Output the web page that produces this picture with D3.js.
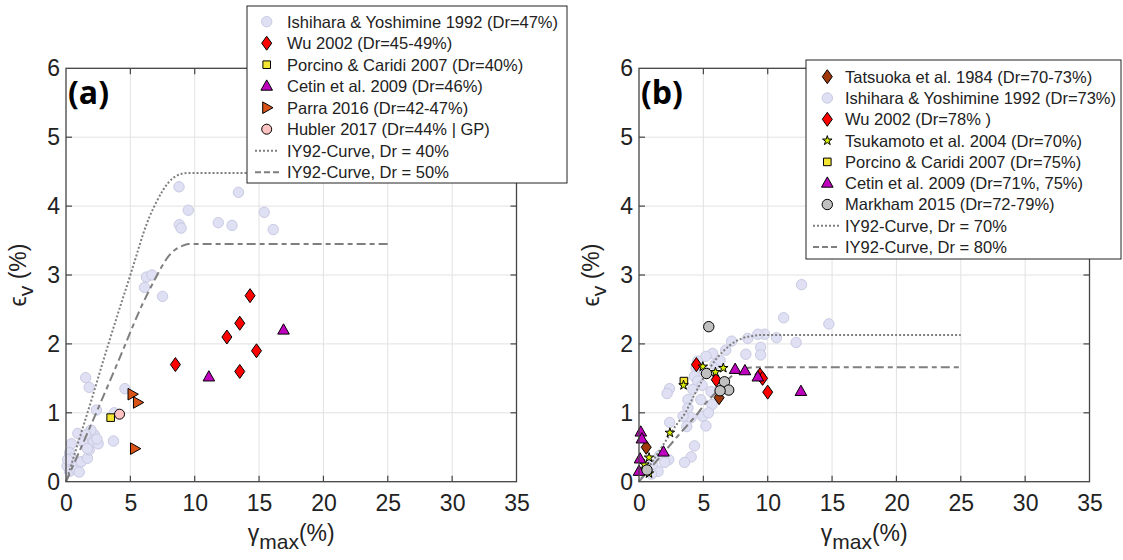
<!DOCTYPE html>
<html>
<head>
<meta charset="utf-8">
<script src="https://cdn.jsdelivr.net/npm/d3@7"></script>
<style>
  html, body { margin: 0; padding: 0; background: #fff; }
  svg { display: block; font-family: "Liberation Sans", Arial, sans-serif; }
</style>
</head>
<body>
<svg id="chart" width="1123" height="560"></svg>
<script>
// ---------- Panel (a): loose sand, Dr ~ 40-50 % ----------
const aIshihara = [
  [8.78,4.28],[9.5,3.94],[8.8,3.73],[8.94,3.68],[13.4,4.2],[11.83,3.76],[12.9,3.72],
  [15.4,3.91],[16.1,3.66],[6.25,2.97],[6.67,3.0],[6.1,2.82],[7.5,2.69],
  [1.53,1.51],[1.8,1.37],[4.58,1.35],[2.36,1.04],[3.75,1.0],[3.69,0.59],
  [0.42,0.55],[0.92,0.70],[0.28,0.42],[0.08,0.23],[0.28,0.15],[0.83,0.17],[1.03,0.14],
  [0.69,0.31],[1.19,0.29],[1.66,0.34],[1.8,0.46],[2.14,0.58],[2.5,0.55],[2.2,0.68],
  [1.94,0.75],[1.53,0.68],[1.3,0.58],[1.66,0.48],[0.42,0.34],[0.13,0.32],[2.4,0.62]
];
const aWu = [[8.5,1.7],[12.5,2.1],[13.5,2.3],[14.3,2.7],[14.8,1.9],[13.5,1.6]];
const aPorcino = [[3.47,0.93]];
const aCetin = [[11.1,1.52],[16.9,2.2]];
const aParra = [[5.13,1.27],[5.55,1.15],[5.32,0.48]];
const aHubler = [[4.16,0.98]];
const aCurve40 = [[0,0],[1,0.6],[2,1.2],[3,1.82],[4,2.42],[5,3.0],[5.5,3.3],[6,3.6],[6.5,3.85],
  [7,4.05],[7.5,4.22],[8,4.35],[8.5,4.43],[9,4.47],[9.5,4.48],[25,4.48]];
const aCurve50 = [[0,0],[2,0.85],[4,1.72],[6,2.6],[7,2.97],[7.5,3.14],[8,3.28],[8.5,3.37],
  [9,3.42],[9.5,3.45],[25,3.45]];

// ---------- Panel (b): dense sand, Dr ~ 70-80 % ----------
const bTatsuoka = [[0.56,0.5],[6.22,1.22]];
const bIshihara = [
  [12.63,2.86],[11.24,2.38],[14.75,2.29],[10.68,2.09],[12.21,2.02],[9.76,2.14],[9.23,2.14],
  [8.45,2.08],[7.2,2.04],[9.45,1.95],[9.45,1.84],[8.3,1.85],[6.74,1.91],[5.72,1.86],
  [5.2,1.82],[4.56,1.75],[4.44,1.65],[4.3,1.53],[4.56,1.46],[4.18,1.34],[3.8,1.19],
  [3.8,1.07],[4.05,0.93],[4.8,1.19],[4.95,0.95],[5.2,0.81],[5.6,1.31],[5.67,1.12],
  [5.9,1.7],[6.3,1.76],[5.1,1.6],[4.9,1.4],[2.37,1.35],[2.18,1.28],[2.38,0.86],
  [4.31,0.52],[4.05,0.36],[3.54,0.28],[2.31,0.32],[1.6,0.38],[2.0,0.28],[1.48,0.15],
  [1.06,0.25],[0.97,0.11],[3.43,0.95],[3.71,0.8],[5.4,1.0]
];
const bWu = [[4.46,1.7],[6.0,1.48],[9.4,1.55],[9.6,1.5],[10.0,1.3]];
const bTsukamoto = [[4.96,1.67],[5.94,1.59],[6.55,1.65],[3.46,1.4],[2.4,0.71],[0.78,0.35],
  [0.42,0.25],[0.78,0.12]];
const bPorcino = [[3.49,1.46]];
const bCetin = [[0.14,0.72],[0.22,0.62],[0.08,0.33],[0.0,0.15],[1.9,0.43],[7.47,1.63],
  [8.23,1.61],[9.23,1.52],[12.58,1.31]];
const bMarkham = [[5.42,2.25],[5.24,1.57],[6.64,1.45],[6.97,1.33],[6.3,1.32],[0.62,0.17]];
const bCurve70 = [[0,0],[1,0.28],[2,0.57],[3,0.85],[3.6,1.0],[4,1.15],[5,1.5],[6,1.78],
  [7,1.97],[8,2.08],[9,2.12],[9.5,2.13],[25,2.13]];
const bCurve80 = [[0,0],[1,0.22],[2,0.44],[3,0.66],[4,0.87],[4.6,1.0],[5,1.1],[6,1.3],
  [7,1.5],[7.5,1.58],[8,1.63],[8.5,1.655],[9,1.66],[25,1.66]];

const xTicks = [0,5,10,15,20,25,30,35];
const yTicks = [0,1,2,3,4,5,6];

// ---------- marker shapes ----------
const shapes = {
  circle: r => `M${r},0A${r},${r} 0 1,1 ${-r},0A${r},${r} 0 1,1 ${r},0Z`,
  diamond: () => "M0,-7L5,0L0,7L-5,0Z",
  square: () => "M-3.8,-3.8H3.8V3.8H-3.8Z",
  triUp: () => "M0,-6.3L5.8,4L-5.8,4Z",
  triRight: () => "M6.3,0L-4,-5.8L-4,5.8Z",
  star: () => d3.symbol(d3.symbolStar, 28)()
};

const styles = {
  ishihara: { shape: "circle", r: 5.2, fill: "#dfe0f3", stroke: "#c8cae2" },
  wu:       { shape: "diamond", fill: "#ff0000", stroke: "#000" },
  porcino:  { shape: "square", fill: "#f3e531", stroke: "#000" },
  cetin:    { shape: "triUp", fill: "#bf00bf", stroke: "#000" },
  parra:    { shape: "triRight", fill: "#d95319", stroke: "#000" },
  hubler:   { shape: "circle", r: 5, fill: "#ffc2c2", stroke: "#000" },
  tatsuoka: { shape: "diamond", fill: "#a1380c", stroke: "#000" },
  tsukamoto:{ shape: "star", fill: "#d8f000", stroke: "#000" },
  markham:  { shape: "circle", r: 5.2, fill: "#c0c0c0", stroke: "#000" }
};

const svg = d3.select("#chart");
const curveStyles = {
  dotted: { dash: "2,2", width: 2 },
  dashed: { dash: "9,4,5,4", width: 2 }
};

function markerPath(st) {
  return st.shape === "circle" ? shapes.circle(st.r) : shapes[st.shape]();
}

function drawPanel(cfg) {
  const x = d3.scaleLinear().domain([0,35]).range([cfg.left, cfg.right]);
  const y = d3.scaleLinear().domain([0,6]).range([cfg.bottom, cfg.top]);
  const g = svg.append("g");

  // grid
  g.append("g").selectAll("line").data(xTicks.slice(1,-1)).join("line")
    .attr("x1", d => x(d)).attr("x2", d => x(d))
    .attr("y1", cfg.top).attr("y2", cfg.bottom)
    .attr("stroke", "#e2e2e2").attr("stroke-width", 1);
  g.append("g").selectAll("line").data(yTicks.slice(1,-1)).join("line")
    .attr("y1", d => y(d)).attr("y2", d => y(d))
    .attr("x1", cfg.left).attr("x2", cfg.right)
    .attr("stroke", "#e2e2e2").attr("stroke-width", 1);

  // axes: tick labels from d3 axes, tick marks drawn inward
  const xAxis = g.append("g").attr("transform", `translate(0,${cfg.bottom})`)
    .call(d3.axisBottom(x).tickValues(xTicks).tickFormat(d3.format("d")).tickSize(0).tickPadding(10));
  const yAxis = g.append("g").attr("transform", `translate(${cfg.left},0)`)
    .call(d3.axisLeft(y).tickValues(yTicks).tickFormat(d3.format("d")).tickSize(0).tickPadding(6));
  [xAxis, yAxis].forEach(a => {
    a.select(".domain").remove();
    a.selectAll("text").attr("font-size", 23).attr("fill", "#222")
      .attr("font-family", "'Liberation Sans', Arial, sans-serif");
  });
  xAxis.selectAll("text").attr("dy", "0.85em");

  const tk = 6;
  const tickG = g.append("g").attr("stroke", "#444").attr("stroke-width", 1.2);
  xTicks.slice(1,-1).forEach(t => {
    tickG.append("line").attr("x1", x(t)).attr("x2", x(t)).attr("y1", cfg.bottom).attr("y2", cfg.bottom - tk);
    tickG.append("line").attr("x1", x(t)).attr("x2", x(t)).attr("y1", cfg.top).attr("y2", cfg.top + tk);
  });
  yTicks.slice(1,-1).forEach(t => {
    tickG.append("line").attr("y1", y(t)).attr("y2", y(t)).attr("x1", cfg.left).attr("x2", cfg.left + tk);
    tickG.append("line").attr("y1", y(t)).attr("y2", y(t)).attr("x1", cfg.right).attr("x2", cfg.right - tk);
  });

  // background scatter (Ishihara & Yoshimine)
  const plotSeries = (data, st) => {
    g.append("g").selectAll("path").data(data).join("path")
      .attr("d", markerPath(st))
      .attr("transform", d => `translate(${x(d[0])},${y(d[1])})`)
      .attr("fill", st.fill).attr("stroke", st.stroke).attr("stroke-width", 1);
  };
  plotSeries(cfg.ishihara, styles.ishihara);

  // IY92 curves
  const line = d3.line().x(d => x(d[0])).y(d => y(d[1])).curve(d3.curveMonotoneX);
  cfg.curves.forEach(c => {
    g.append("path").attr("d", line(c.data)).attr("fill", "none")
      .attr("stroke", "#7f7f7f").attr("stroke-width", curveStyles[c.style].width)
      .attr("stroke-dasharray", curveStyles[c.style].dash);
  });

  cfg.series.forEach(s => plotSeries(s.data, styles[s.key]));

  // box
  g.append("rect").attr("x", cfg.left).attr("y", cfg.top)
    .attr("width", cfg.right - cfg.left).attr("height", cfg.bottom - cfg.top)
    .attr("fill", "none").attr("stroke", "#444").attr("stroke-width", 1.3);

  // panel tag
  g.append("text").attr("x", cfg.left + 2).attr("y", cfg.top + 36)
    .attr("font-family", "'Open Sans', sans-serif").attr("font-weight", "bold")
    .attr("font-size", 32).attr("fill", "#000").text(cfg.tag);

  // axis titles
  const cx = (cfg.left + cfg.right) / 2;
  const xt = g.append("text").attr("x", cx).attr("y", 541).attr("text-anchor", "middle")
    .attr("font-size", 23).attr("fill", "#222");
  xt.append("tspan").text("γ");
  xt.append("tspan").attr("dy", 8).attr("font-size", 21).text("max");
  xt.append("tspan").attr("dy", -8).text("(%)");

  const cy = (cfg.top + cfg.bottom) / 2;
  const yt = g.append("text")
    .attr("transform", `translate(${cfg.left - 40},${cy}) rotate(-90)`)
    .attr("text-anchor", "middle").attr("font-size", 23).attr("fill", "#222");
  yt.append("tspan").text("ϵ");
  yt.append("tspan").attr("dy", 7).attr("font-size", 21).text("v");
  yt.append("tspan").attr("dy", -7).text(" (%)");

  // legend
  const L = cfg.legend;
  const lg = svg.append("g");
  lg.append("rect").attr("x", L.x0).attr("y", L.y0).attr("width", L.x1 - L.x0)
    .attr("height", L.y1 - L.y0).attr("fill", "#fff").attr("stroke", "#222").attr("stroke-width", 1);
  L.items.forEach((it, i) => {
    const yy = L.row0 + i * L.step;
    if (it.key) {
      const st = styles[it.key];
      lg.append("path").attr("d", markerPath(st)).attr("transform", `translate(${L.mx},${yy})`)
        .attr("fill", st.fill).attr("stroke", st.stroke).attr("stroke-width", 1);
    } else {
      lg.append("line").attr("x1", L.lx0).attr("x2", L.lx1).attr("y1", yy).attr("y2", yy)
        .attr("stroke", "#7f7f7f").attr("stroke-width", 2)
        .attr("stroke-dasharray", it.style === "dotted" ? "2,2" : "6,3");
    }
    lg.append("text").attr("x", L.tx).attr("y", yy).attr("dy", "0.36em")
      .attr("font-size", 16.5).attr("fill", "#222").text(it.label);
  });
}

drawPanel({
  left: 66, right: 516.5, top: 68.3, bottom: 481.7, tag: "(a)",
  ishihara: aIshihara,
  curves: [{ data: aCurve40, style: "dotted" }, { data: aCurve50, style: "dashed" }],
  series: [
    { key: "wu", data: aWu }, { key: "porcino", data: aPorcino }, { key: "cetin", data: aCetin },
    { key: "parra", data: aParra }, { key: "hubler", data: aHubler }
  ],
  legend: {
    x0: 247, x1: 567, y0: 6, y1: 183, mx: 266.7, lx0: 255, lx1: 279, tx: 287, row0: 21.7, step: 21.5,
    items: [
      { key: "ishihara", label: "Ishihara & Yoshimine 1992 (Dr=47%)" },
      { key: "wu", label: "Wu 2002 (Dr=45-49%)" },
      { key: "porcino", label: "Porcino & Caridi 2007 (Dr=40%)" },
      { key: "cetin", label: "Cetin et al. 2009 (Dr=46%)" },
      { key: "parra", label: "Parra 2016 (Dr=42-47%)" },
      { key: "hubler", label: "Hubler 2017 (Dr=44% | GP)" },
      { style: "dotted", label: "IY92-Curve, Dr = 40%" },
      { style: "dashed", label: "IY92-Curve, Dr = 50%" }
    ]
  }
});

drawPanel({
  left: 639, right: 1089.5, top: 68.3, bottom: 481.7, tag: "(b)",
  ishihara: bIshihara,
  curves: [{ data: bCurve70, style: "dotted" }, { data: bCurve80, style: "dashed" }],
  series: [
    { key: "tatsuoka", data: bTatsuoka }, { key: "wu", data: bWu },
    { key: "porcino", data: bPorcino }, { key: "tsukamoto", data: bTsukamoto },
    { key: "cetin", data: bCetin }, { key: "markham", data: bMarkham }
  ],
  legend: {
    x0: 806, x1: 1121, y0: 60, y1: 259, mx: 827.3, lx0: 813, lx1: 839, tx: 845, row0: 76.7, step: 21.3,
    items: [
      { key: "tatsuoka", label: "Tatsuoka et al. 1984 (Dr=70-73%)" },
      { key: "ishihara", label: "Ishihara & Yoshimine 1992 (Dr=73%)" },
      { key: "wu", label: "Wu 2002 (Dr=78% )" },
      { key: "tsukamoto", label: "Tsukamoto et al. 2004 (Dr=70%)" },
      { key: "porcino", label: "Porcino & Caridi 2007 (Dr=75%)" },
      { key: "cetin", label: "Cetin et al. 2009 (Dr=71%, 75%)" },
      { key: "markham", label: "Markham 2015 (Dr=72-79%)" },
      { style: "dotted", label: "IY92-Curve, Dr = 70%" },
      { style: "dashed", label: "IY92-Curve, Dr = 80%" }
    ]
  }
});
</script>
</body>
</html>
